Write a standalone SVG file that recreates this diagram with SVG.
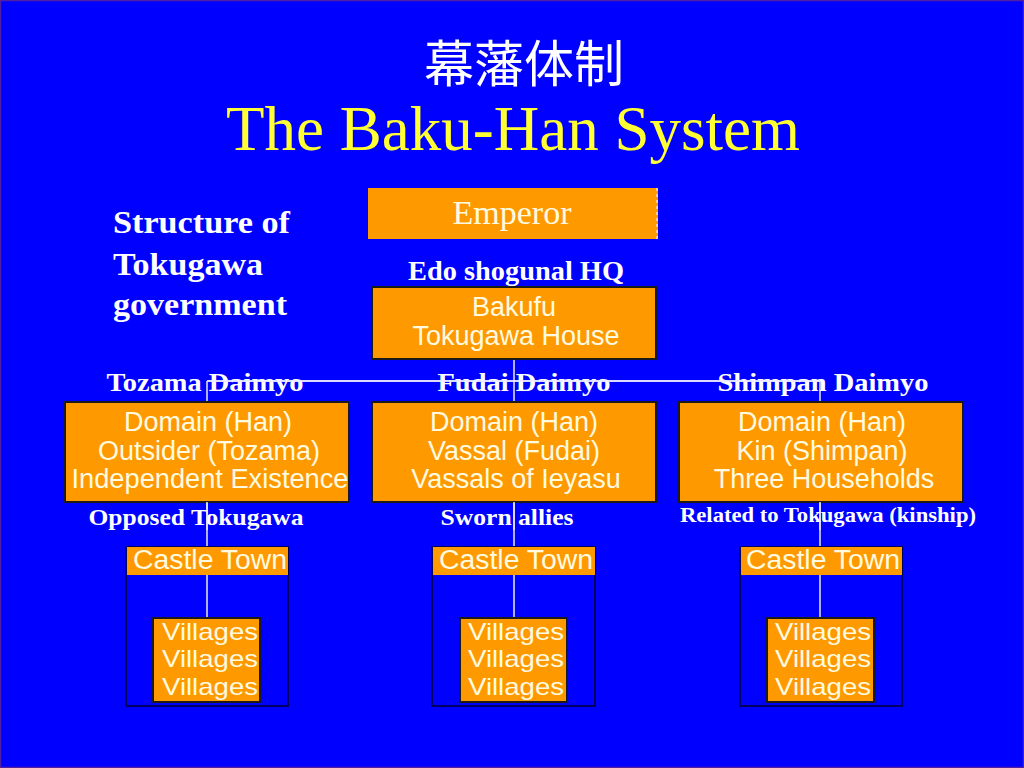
<svg xmlns="http://www.w3.org/2000/svg" width="1024" height="768" viewBox="0 0 1024 768">
<defs>
<style>
.bx{fill:#FF9900;stroke:#1a1a1a;stroke-width:2}
.bt{font-family:"Liberation Sans",Arial,sans-serif;font-size:27px;fill:#FFFBE0;text-anchor:middle}
.vt{font-family:"Liberation Sans",Arial,sans-serif;font-size:24px;fill:#FFFBE0;text-anchor:middle}
.lb{font-family:"Liberation Serif","Times New Roman",serif;font-weight:bold;fill:#FFFFFF;text-anchor:middle}
.ls{font-family:"Liberation Serif","Times New Roman",serif;font-weight:bold;fill:#FFFFFF;font-size:31px}
.ln{stroke:#E8E8FF;stroke-width:1.5;fill:none}
.outer{fill:none;stroke:#000060;stroke-width:2}
</style>
</defs>
<rect x="0" y="0" width="1024" height="768" fill="#0000FF"/>
<rect x="0.5" y="0.5" width="1023" height="767" fill="none" stroke="#5020A0" stroke-width="1.5"/>
<g id="title">
<text x="524" y="82" font-family="Noto Sans CJK JP, sans-serif" font-size="50" fill="#FFFFFF" text-anchor="middle">幕藩体制</text>
<text x="513" y="150" font-family="Liberation Serif, serif" font-size="63" fill="#FFFF33" text-anchor="middle">The Baku-Han System</text>
</g>
<g id="structure-label">
<text x="113" y="233" class="ls" textLength="177" lengthAdjust="spacingAndGlyphs">Structure of</text>
<text x="113" y="275" class="ls" textLength="150" lengthAdjust="spacingAndGlyphs">Tokugawa</text>
<text x="113" y="315" class="ls" textLength="174" lengthAdjust="spacingAndGlyphs">government</text>
</g>
<g id="connectors">
<line class="ln" x1="514" y1="359" x2="514" y2="402"/>
<line class="ln" x1="207" y1="381" x2="820" y2="381"/>
<line class="ln" x1="207" y1="381" x2="207" y2="402"/>
<line class="ln" x1="820" y1="381" x2="820" y2="402"/>
<line class="ln" x1="207" y1="502" x2="207" y2="547"/>
<line class="ln" x1="514" y1="502" x2="514" y2="547"/>
<line class="ln" x1="820" y1="502" x2="820" y2="547"/>
<line class="ln" x1="207" y1="575" x2="207" y2="618"/>
<line class="ln" x1="514" y1="575" x2="514" y2="618"/>
<line class="ln" x1="820" y1="575" x2="820" y2="618"/>
</g>
<g id="emperor">
<rect x="368" y="188" width="290" height="51" fill="#FF9900"/>
<line x1="657" y1="188" x2="657" y2="239" stroke="#FFE0B0" stroke-width="1.5" stroke-dasharray="3,3"/>
<text x="512" y="224" font-family="Liberation Serif, serif" font-size="34" fill="#FFFBE0" text-anchor="middle">Emperor</text>
</g>
<g id="bakufu">
<text x="516" y="280" class="lb" font-size="28" textLength="216" lengthAdjust="spacingAndGlyphs">Edo shogunal HQ</text>
<rect class="bx" x="372" y="287" width="284" height="72"/>
<text x="514" y="316" class="bt">Bakufu</text>
<text x="516" y="345" class="bt">Tokugawa House</text>
</g>
<g id="tozama">
<text x="205" y="391" class="lb" font-size="26" textLength="197" lengthAdjust="spacingAndGlyphs">Tozama Daimyo</text>
<rect class="bx" x="65" y="402" width="284" height="100"/>
<text x="208" y="431" class="bt">Domain (Han)</text>
<text x="209" y="460" class="bt">Outsider (Tozama)</text>
<text x="210" y="488" class="bt" textLength="277" lengthAdjust="spacingAndGlyphs">Independent Existence</text>
<text x="196" y="525" class="lb" font-size="24" textLength="215" lengthAdjust="spacingAndGlyphs">Opposed Tokugawa</text>
</g>
<g id="fudai">
<text x="524" y="391" class="lb" font-size="26" textLength="173" lengthAdjust="spacingAndGlyphs">Fudai Daimyo</text>
<rect class="bx" x="372" y="402" width="284" height="100"/>
<text x="514" y="431" class="bt">Domain (Han)</text>
<text x="514" y="460" class="bt">Vassal (Fudai)</text>
<text x="516" y="488" class="bt">Vassals of Ieyasu</text>
<text x="507" y="525" class="lb" font-size="24" textLength="133" lengthAdjust="spacingAndGlyphs">Sworn allies</text>
</g>
<g id="shimpan">
<text x="823" y="391" class="lb" font-size="26" textLength="211" lengthAdjust="spacingAndGlyphs">Shimpan Daimyo</text>
<rect class="bx" x="679" y="402" width="284" height="100"/>
<text x="822" y="431" class="bt">Domain (Han)</text>
<text x="822" y="460" class="bt">Kin (Shimpan)</text>
<text x="824" y="488" class="bt">Three Households</text>
<text x="828" y="522" class="lb" font-size="21" textLength="296" lengthAdjust="spacingAndGlyphs">Related to Tokugawa (kinship)</text>
</g>
<g id="castle-tozama">
<rect class="outer" x="126" y="547" width="162" height="159"/>
<rect x="127" y="547" width="161" height="28" fill="#FF9900"/>
<text x="210" y="569" class="bt" textLength="154" lengthAdjust="spacingAndGlyphs">Castle Town</text>
<rect class="bx" x="153" y="618" width="107" height="84"/>
<text x="210" y="640" class="vt" textLength="96" lengthAdjust="spacingAndGlyphs">Villages</text>
<text x="210" y="667" class="vt" textLength="96" lengthAdjust="spacingAndGlyphs">Villages</text>
<text x="210" y="695" class="vt" textLength="96" lengthAdjust="spacingAndGlyphs">Villages</text>
</g>
<g id="castle-fudai">
<rect class="outer" x="432" y="547" width="163" height="159"/>
<rect x="433" y="547" width="162" height="28" fill="#FF9900"/>
<text x="516" y="569" class="bt" textLength="154" lengthAdjust="spacingAndGlyphs">Castle Town</text>
<rect class="bx" x="460" y="618" width="107" height="84"/>
<text x="516" y="640" class="vt" textLength="96" lengthAdjust="spacingAndGlyphs">Villages</text>
<text x="516" y="667" class="vt" textLength="96" lengthAdjust="spacingAndGlyphs">Villages</text>
<text x="516" y="695" class="vt" textLength="96" lengthAdjust="spacingAndGlyphs">Villages</text>
</g>
<g id="castle-shimpan">
<rect class="outer" x="740" y="547" width="162" height="159"/>
<rect x="741" y="547" width="161" height="28" fill="#FF9900"/>
<text x="823" y="569" class="bt" textLength="154" lengthAdjust="spacingAndGlyphs">Castle Town</text>
<rect class="bx" x="767" y="618" width="107" height="84"/>
<text x="823" y="640" class="vt" textLength="96" lengthAdjust="spacingAndGlyphs">Villages</text>
<text x="823" y="667" class="vt" textLength="96" lengthAdjust="spacingAndGlyphs">Villages</text>
<text x="823" y="695" class="vt" textLength="96" lengthAdjust="spacingAndGlyphs">Villages</text>
</g>
<g id="overlay-lines">
<line class="ln" x1="207" y1="381" x2="820" y2="381"/>
<line class="ln" x1="207" y1="502" x2="207" y2="530"/>
<line class="ln" x1="514" y1="502" x2="514" y2="530"/>
<line class="ln" x1="820" y1="502" x2="820" y2="530"/>
</g>
</svg>
